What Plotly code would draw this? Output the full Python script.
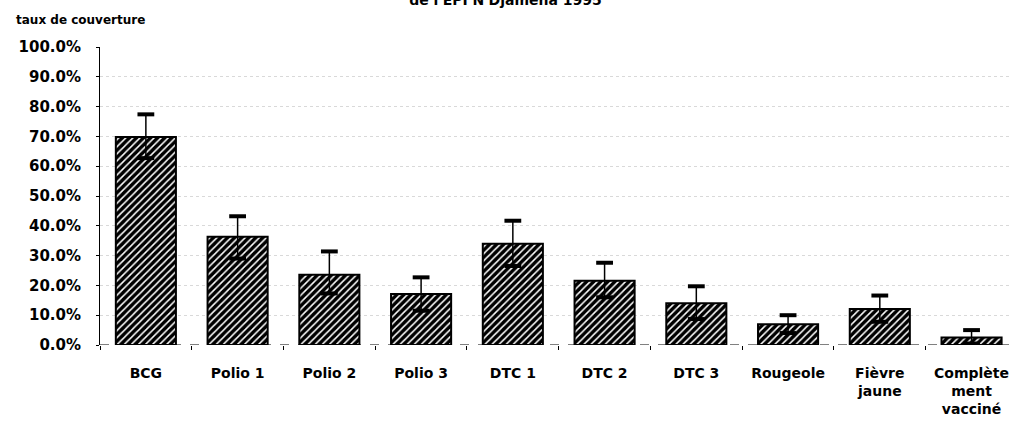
import plotly.graph_objects as go

# Taux de couverture vaccinale par antigène, avec intervalles de confiance
categories = ["BCG", "Polio 1", "Polio 2", "Polio 3", "DTC 1", "DTC 2", "DTC 3",
              "Rougeole", "Fièvre<br>jaune", "Complète<br>ment<br>vacciné"]
coverage = [69.8, 36.3, 23.6, 17.1, 34.0, 21.6, 14.0, 7.0, 12.1, 2.5]
err_plus = [7.6, 6.9, 7.8, 5.6, 7.7, 6.0, 5.7, 3.0, 4.5, 2.5]
err_minus = [7.1, 7.3, 6.3, 5.6, 7.5, 5.6, 5.3, 3.0, 4.3, 2.0]
y_ticks = [0, 10, 20, 30, 40, 50, 60, 70, 80, 90, 100]
y_tick_text = [f"{v:.1f}%" for v in y_ticks]

FONT = "DejaVu Sans"

upper = [v + e for v, e in zip(coverage, err_plus)]
lower = [v - e for v, e in zip(coverage, err_minus)]

fig = go.Figure()

fig.add_trace(go.Bar(
    x=categories,
    y=coverage,
    width=0.655,
    marker=dict(
        color="white",
        line=dict(color="black", width=2),
        pattern=dict(shape="/", fgcolor="#000000", bgcolor="#ffffff",
                     fgopacity=1, size=5, solidity=0.7, fillmode="overlay"),
    ),
    error_y=dict(type="data", symmetric=False, array=err_plus,
                 arrayminus=err_minus, color="black", thickness=1.5, width=0),
    hoverinfo="skip",
))

# Thick end caps of the confidence intervals
fig.add_trace(go.Scatter(
    x=categories + categories,
    y=upper + lower,
    mode="markers",
    marker=dict(symbol="line-ew-open", size=12, color="black",
                line=dict(color="black", width=4)),
    hoverinfo="skip",
))

# Dashed baseline along 0 %
fig.add_shape(type="line", xref="paper", yref="y", x0=0, x1=1, y0=0, y1=0,
              line=dict(color="black", width=1, dash="dash"))

fig.update_layout(
    width=1011, height=425,
    margin=dict(l=100, r=0, t=47, b=80),
    paper_bgcolor="white", plot_bgcolor="white",
    showlegend=False,
    font=dict(family=FONT, size=13, color="black"),
    title=dict(text="<b>de l'EPI N'Djamena 1995</b>", x=0.5, xref="container",
               y=1.0, yref="container", yanchor="middle", xanchor="center",
               font=dict(family=FONT, size=14, color="black")),
    annotations=[dict(text="<b>taux de couverture</b>", xref="paper", yref="paper",
                      x=-0.0945, y=1.0, xanchor="left", yanchor="middle", yshift=27,
                      showarrow=False, font=dict(family=FONT, size=12, color="black"))],
)

fig.update_yaxes(
    range=[0, 100], tickvals=y_ticks, ticktext=y_tick_text,
    showline=True, linecolor="black", linewidth=1,
    ticks="outside", ticklen=3, tickcolor="black",
    ticklabelstandoff=12,
    showgrid=True, gridcolor="#d9d9d9", griddash="dot", gridwidth=1,
    zeroline=False, automargin=False,
    tickfont=dict(family=FONT, size=15, color="black", weight="bold"),
)

fig.update_xaxes(
    range=[-0.5, 9.43],
    showline=False, showgrid=False, zeroline=False, automargin=False,
    tickson="boundaries", ticks="outside", ticklen=4, tickcolor="black",
    ticklabelstandoff=18,
    tickfont=dict(family=FONT, size=14, color="black", weight="bold"),
    tickangle=0,
)

fig.write_html("out.html")
